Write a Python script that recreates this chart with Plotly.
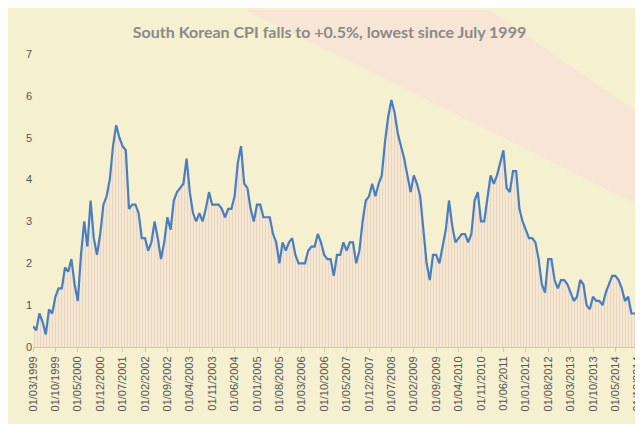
import plotly.graph_objects as go
import pandas as pd

cpi = [0.5,0.4,0.8,0.6,0.3,0.9,0.8,1.2,1.4,1.4,
 1.9,1.8,2.1,1.5,1.1,2.2,3.0,2.4,3.5,2.6,2.2,2.7,
 3.4,3.6,4.0,4.8,5.3,5.0,4.8,4.7,3.3,3.4,3.4,3.2,
 2.6,2.6,2.3,2.5,3.0,2.6,2.1,2.5,3.1,2.8,3.5,3.7,
 3.8,3.9,4.5,3.7,3.2,3.0,3.2,3.0,3.3,3.7,3.4,3.4,
 3.4,3.3,3.1,3.3,3.3,3.6,4.4,4.8,3.9,3.8,3.3,3.0,
 3.4,3.4,3.1,3.1,3.1,2.7,2.5,2.0,2.5,2.3,2.5,2.6,
 2.2,2.0,2.0,2.0,2.3,2.4,2.4,2.7,2.5,2.2,2.1,2.1,
 1.7,2.2,2.2,2.5,2.3,2.5,2.5,2.0,2.3,3.0,3.5,3.6,
 3.9,3.6,3.9,4.1,4.9,5.5,5.9,5.6,5.1,4.8,4.5,4.1,
 3.7,4.1,3.9,3.6,2.7,2.0,1.6,2.2,2.2,2.0,2.4,2.8,
 3.5,2.9,2.5,2.6,2.7,2.7,2.5,2.7,3.5,3.7,3.0,3.0,
 3.5,4.1,3.9,4.1,4.4,4.7,3.8,3.7,4.2,4.2,3.3,3.0,
 2.8,2.6,2.6,2.5,2.1,1.5,1.3,2.1,2.1,1.6,1.4,1.6,
 1.6,1.5,1.3,1.1,1.2,1.6,1.5,1.0,0.9,1.2,1.1,1.1,
 1.0,1.3,1.5,1.7,1.7,1.6,1.4,1.1,1.2,0.8,0.8,0.8,0.5]
months = pd.date_range("1999-03-01", periods=len(cpi), freq="MS")
x = list(range(len(cpi)))
tickvals = x[::7]
ticktext = [months[i].strftime("%d/%m/%Y") for i in tickvals]

fig = go.Figure(go.Scatter(x=x, y=cpi, mode="lines", line=dict(color="#4a7ebf", width=2.2),
    fill="tozeroy", fillcolor="rgba(0,0,0,0)",
    fillpattern=dict(shape="|", fgcolor="#e8b8b8", bgcolor="rgba(240,228,205,0.6)", size=3, solidity=0.3)))
fig.update_layout(
    width=643, height=424, paper_bgcolor="#f4f0d0", plot_bgcolor="rgba(0,0,0,0)",
    margin=dict(l=25, r=10, t=46, b=85, autoexpand=False),
    title=dict(text="<b>South Korean CPI falls to +0.5%, lowest since July 1999</b>", x=0.5, y=0.955,
               font=dict(family="Lato", size=16, color="#8a8a8a")),
    showlegend=False,
    shapes=[dict(type="path", xref="paper", yref="paper", layer="below",
                 path="M 0.35 1.15 L 0.75 1.15 L 1.03 0.75 L 1.03 0.45 Z",
                 fillcolor="rgba(250,215,220,0.45)", line=dict(width=0))],
)
fig.update_xaxes(range=[0, len(cpi)-1], tickvals=tickvals, ticktext=ticktext, tickangle=-90, automargin=False,
                 tickfont=dict(family="Liberation Sans", size=11, color="#555"), showgrid=False,
                 showline=True, linecolor="#d0c8b0", ticks="outside", ticklen=4, tickcolor="#d0c8b0", zeroline=False)
fig.update_yaxes(range=[0, 7], dtick=1, showgrid=False, zeroline=False, automargin=False,
                 tickfont=dict(family="Liberation Sans", size=11, color="#555"))
fig.write_html("out.html")
